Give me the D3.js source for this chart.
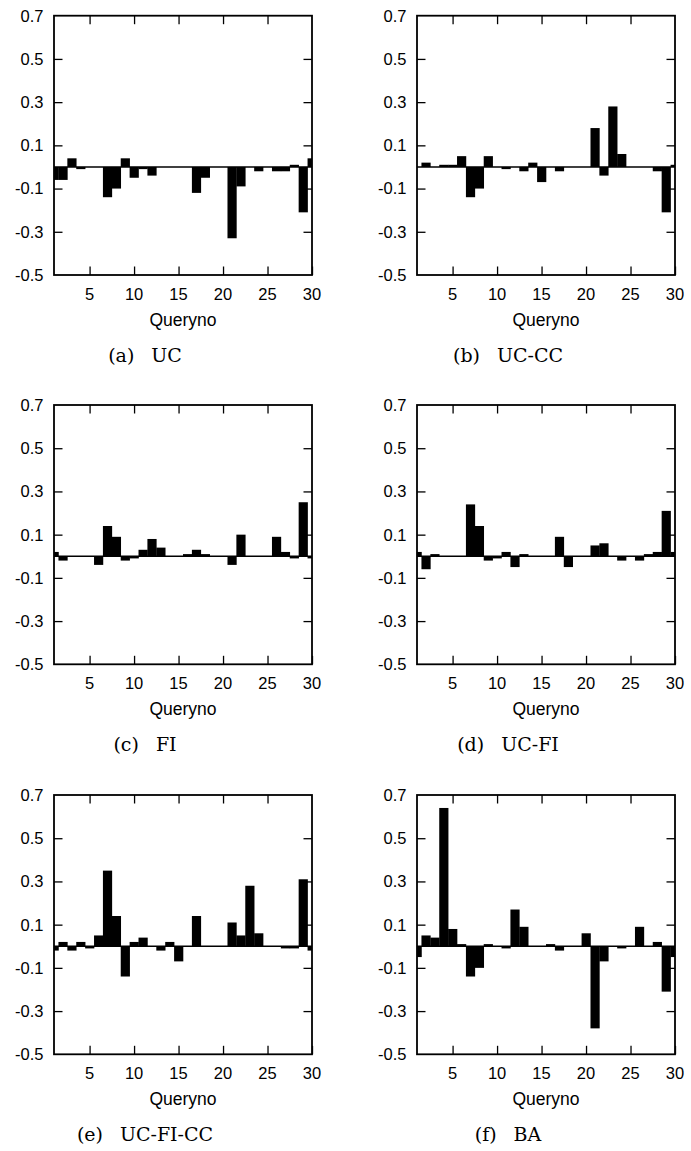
<!DOCTYPE html>
<html>
<head>
<meta charset="utf-8">
<script src="https://cdn.jsdelivr.net/npm/d3@7"></script>
<style>
  html, body { margin: 0; padding: 0; background: #fff; }
  svg { display: block; }
</style>
</head>
<body>
<svg id="chart" width="691" height="1151"></svg>
<script>
// ---------- data ----------
const queries = [1,2,3,4,5,6,7,8,9,10,11,12,13,14,15,16,17,18,19,20,21,22,23,24,25,26,27,28,29,30];
const xTicks = [5, 10, 15, 20, 25, 30];
const yTicks = [0.7, 0.5, 0.3, 0.1, -0.1, -0.3, -0.5];
const yTickLabels = ["0.7", "0.5", "0.3", "0.1", "-0.1", "-0.3", "-0.5"];
const xLabel = "Queryno";

const ucValues     = [-0.06,-0.06,0.04,-0.01,0,0,-0.14,-0.10,0.04,-0.05,-0.01,-0.04,0,0,0,0,-0.12,-0.05,0,0,-0.33,-0.09,0,-0.02,0,-0.02,-0.02,0.01,-0.21,0.04];
const ucCcValues   = [0,0.02,0,0.01,0.01,0.05,-0.14,-0.10,0.05,0,-0.01,0,-0.02,0.02,-0.07,0,-0.02,0,0,0,0.18,-0.04,0.28,0.06,0,0,0,-0.02,-0.21,0.01];
const fiValues     = [0.02,-0.02,0,0,0,-0.04,0.14,0.09,-0.02,-0.01,0.03,0.08,0.04,0,0,0.01,0.03,0.01,0,0,-0.04,0.10,0,0,0,0.09,0.02,-0.01,0.25,-0.01];
const ucFiValues   = [0.02,-0.06,0.01,0,0,0,0.24,0.14,-0.02,-0.01,0.02,-0.05,0.01,0,0,0,0.09,-0.05,0,0,0.05,0.06,0,-0.02,0,-0.02,0.01,0.02,0.21,0.02];
const ucFiCcValues = [-0.02,0.02,-0.02,0.02,-0.01,0.05,0.35,0.14,-0.14,0.02,0.04,0,-0.02,0.02,-0.07,0,0.14,0,0,0,0.11,0.05,0.28,0.06,0,0,-0.01,-0.01,0.31,-0.02];
const baValues     = [-0.05,0.05,0.04,0.64,0.08,0.01,-0.14,-0.10,0.01,0,-0.01,0.17,0.09,0,0,0.01,-0.02,0,0,0.06,-0.38,-0.07,0,-0.01,0,0.09,0,0.02,-0.21,-0.05];

const captionTags  = ["(a)", "(b)", "(c)", "(d)", "(e)", "(f)"];
const captionNames = ["UC", "UC-CC", "FI", "UC-FI", "UC-FI-CC", "BA"];
const panelSeries  = [ucValues, ucCcValues, fiValues, ucFiValues, ucFiCcValues, baValues];

// ---------- layout ----------
const plotW = 258, plotH = 259.3;
const colLeft = [54, 417];
const rowTop = [15.7, 405, 795];

const svg = d3.select("#chart");
const sans = "'Liberation Sans', Arial, Helvetica, sans-serif";
const serif = "'DejaVu Serif', serif";

panelSeries.forEach((vals, i) => {
  const left = colLeft[i % 2], top = rowTop[Math.floor(i / 2)];
  const g = svg.append("g").attr("transform", `translate(${left},${top})`);

  const x = d3.scaleLinear().domain([1, 30]).range([0, plotW]);
  const y = d3.scaleLinear().domain([-0.5, 0.7]).range([plotH, 0]);

  const clipId = "clip" + i;
  g.append("clipPath").attr("id", clipId)
    .append("rect").attr("x", 0).attr("y", 0).attr("width", plotW).attr("height", plotH);

  // zero axis
  g.append("line")
    .attr("x1", 0).attr("x2", plotW)
    .attr("y1", y(0)).attr("y2", y(0))
    .attr("stroke", "#000").attr("stroke-width", 1.4);

  // bars
  g.append("g").attr("clip-path", `url(#${clipId})`)
    .selectAll("rect")
    .data(queries.map((q, k) => ({ q, v: vals[k] })))
    .join("rect")
    .attr("x", d => x(d.q - 0.5))
    .attr("width", d => x(d.q + 0.5) - x(d.q - 0.5) + 0.3)
    .attr("y", d => y(Math.max(0, d.v)))
    .attr("height", d => Math.abs(y(d.v) - y(0)))
    .attr("fill", "#000");

  // axes (ticks inward, mirrored)
  const tickLen = 8.5;
  const axB = d3.axisBottom(x).tickValues(xTicks).tickSize(-tickLen).tickFormat("");
  const axT = d3.axisTop(x).tickValues(xTicks.filter(t => t < 30)).tickSize(-tickLen).tickFormat("");
  const axL = d3.axisLeft(y).tickValues(yTicks.filter(t => t > -0.5 && t < 0.7)).tickSize(-tickLen).tickFormat("");
  const axR = d3.axisRight(y).tickValues(yTicks.filter(t => t > -0.5 && t < 0.7)).tickSize(-tickLen).tickFormat("");

  [[axB, `translate(0,${plotH})`], [axT, "translate(0,0)"], [axL, "translate(0,0)"], [axR, `translate(${plotW},0)`]]
    .forEach(([ax, tr]) => {
      const a = g.append("g").attr("transform", tr).call(ax);
      a.select(".domain").remove();
      a.selectAll("line").attr("stroke", "#000").attr("stroke-width", 1.3);
    });

  // border
  g.append("rect").attr("x", 0).attr("y", 0).attr("width", plotW).attr("height", plotH)
    .attr("fill", "none").attr("stroke", "#000").attr("stroke-width", 1.8);

  // y tick labels
  g.append("g").selectAll("text").data(yTicks).join("text")
    .attr("x", -10.5).attr("y", d => y(d))
    .attr("dy", "0.36em")
    .attr("text-anchor", "end")
    .attr("font-family", sans).attr("font-size", 16.5)
    .text((d, k) => yTickLabels[k]);

  // x tick labels
  g.append("g").selectAll("text").data(xTicks).join("text")
    .attr("x", d => x(d)).attr("y", plotH + 25)
    .attr("text-anchor", "middle")
    .attr("font-family", sans).attr("font-size", 16.5)
    .text(d => d);

  // x axis label
  g.append("text")
    .attr("x", plotW / 2).attr("y", plotH + 51)
    .attr("text-anchor", "middle")
    .attr("font-family", sans).attr("font-size", 17.5)
    .text(xLabel);

  // caption
  const cap = g.append("text")
    .attr("x", plotW / 2 - 38).attr("y", plotH + 87)
    .attr("text-anchor", "middle")
    .attr("font-family", serif).attr("font-size", 19)
    .attr("fill", "#000");
  cap.append("tspan").text(captionTags[i]);
  cap.append("tspan").attr("dx", 17).text(captionNames[i]);
});
</script>
</body>
</html>
